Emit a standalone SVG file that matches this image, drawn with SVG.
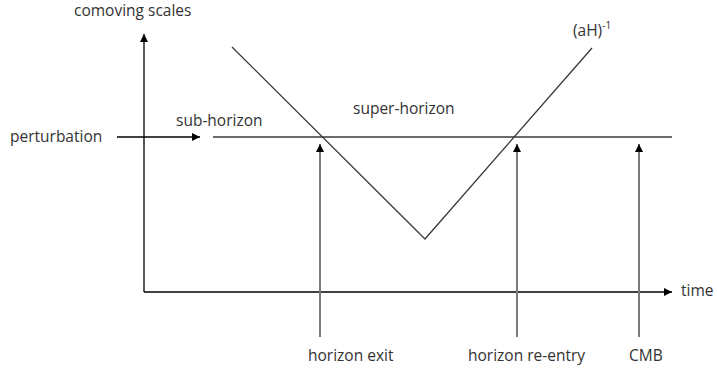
<svg xmlns="http://www.w3.org/2000/svg" width="717" height="369" viewBox="0 0 717 369">
<defs>
<marker id="ah" viewBox="0 0 10 10" refX="10" refY="5" markerWidth="8" markerHeight="8" markerUnits="userSpaceOnUse" orient="auto">
<path d="M0,0 L10,5 L0,10 Z" fill="#000"/>
</marker>
<style>
text{font-family:"Open Sans","Liberation Sans",sans-serif;font-size:15.5px;fill:#333}
.ax{stroke:#000;stroke-width:1.3;fill:none}
.ln{stroke:#3a3a3a;stroke-width:1.3;fill:none}
.ev{stroke:#7a7a7a;stroke-width:2;fill:none}
</style>
</defs>
<rect width="717" height="369" fill="#fff"/>
<g id="connectors">
<line id="y-axis" class="ax" x1="144" y1="292" x2="144" y2="34" marker-end="url(#ah)"/>
<line id="x-axis" class="ax" x1="144" y1="292" x2="672" y2="292" marker-end="url(#ah)"/>
<line id="pert-arrow" class="ax" x1="117" y1="137" x2="200" y2="137" marker-end="url(#ah)"/>
<line id="pert-line" class="ln" x1="213" y1="137" x2="672" y2="137"/>
<polyline id="aH" class="ln" points="232,47 425,239 592,48"/>
<line id="exit-arrow" class="ev" x1="320" y1="337" x2="320" y2="144" marker-end="url(#ah)"/>
<line id="reentry-arrow" class="ev" x1="517" y1="337" x2="517" y2="144" marker-end="url(#ah)"/>
<line id="cmb-arrow" class="ev" x1="639" y1="337" x2="639" y2="144" marker-end="url(#ah)"/>
</g>
<g id="label-comoving"><text x="74" y="16">comoving scales</text></g>
<g id="label-perturbation"><text x="10" y="142">perturbation</text></g>
<g id="label-subhorizon"><text x="176" y="126">sub-horizon</text></g>
<g id="label-superhorizon"><text x="353" y="114">super-horizon</text></g>
<g id="label-aH"><text x="573" y="36">(aH)<tspan font-size="10" dy="-7">-1</tspan></text></g>
<g id="label-time"><text x="681" y="296">time</text></g>
<g id="label-exit"><text x="308" y="361">horizon exit</text></g>
<g id="label-reentry"><text x="468" y="361">horizon re-entry</text></g>
<g id="label-cmb"><text x="629" y="361">CMB</text></g>
</svg>
